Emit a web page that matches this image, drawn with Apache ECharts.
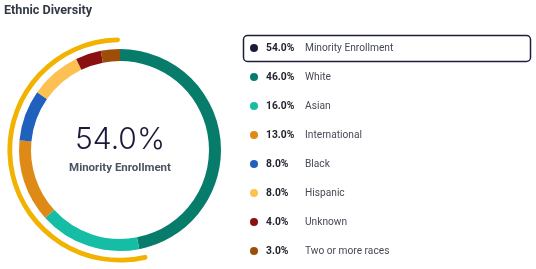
<!DOCTYPE html>
<html>
<head>
<meta charset="utf-8">
<script src="https://cdn.jsdelivr.net/npm/echarts@6/dist/echarts.min.js"></script>
<style>
html,body{margin:0;padding:0;background:#fff;}
#c{width:536px;height:269px;}
</style>
</head>
<body>
<div id="c"></div>
<script>
const chartTitle = 'Ethnic Diversity';
const summaryName = 'Minority Enrollment';
const summaryValue = 54.0;
const categories = ['White', 'Asian', 'International', 'Black', 'Hispanic', 'Unknown', 'Two or more races'];
const values = [46.0, 16.0, 13.0, 8.0, 8.0, 4.0, 3.0];
const colors = ['#077c6b', '#14bda3', '#df8a17', '#2161be', '#fdc052', '#8b1010', '#9c4d07'];
const summaryColor = '#f1b300';
const summaryDot = '#1c1a3c';

const chart = echarts.init(document.getElementById('c'), null, {renderer: 'canvas'});
const valueOf = {};
categories.forEach((c, i) => valueOf[c] = values[i]);
valueOf[summaryName] = summaryValue;

const option = {
  animation: false,
  title: {
    text: chartTitle, left: 4, top: 4, padding: 0,
    textStyle: {fontFamily: 'Roboto', fontSize: 12.6, fontWeight: 'bold', color: '#333a45'}
  },
  legend: {
    orient: 'vertical', left: 250, top: 43, padding: 0,
    itemWidth: 8, itemHeight: 8, itemGap: 19, icon: 'circle',
    selectedMode: false,
    data: [{name: summaryName, itemStyle: {color: summaryDot}}].concat(categories.map(c => ({name: c}))),
    formatter: name => `{p|${valueOf[name].toFixed(1)}%}{n|${name}}`,
    textStyle: {
      fontFamily: 'Roboto',
      rich: {
        p: {fontFamily: 'Roboto', fontWeight: 'bold', fontSize: 10.3, width: 39, padding: [0, 0, 0, 3], color: '#23232e', lineHeight: 11},
        n: {fontFamily: 'Roboto', fontSize: 10.2, color: '#464a55', lineHeight: 11}
      }
    }
  },
  graphic: [
    {type: 'rect', shape: {x: 243.5, y: 35.5, width: 287, height: 26, r: 4}, style: {fill: 'none', stroke: '#1e1e3c', lineWidth: 1.5}, z: -1},
    {type: 'text', x: 120, y: 140, style: {text: summaryValue.toFixed(1) + '%', textAlign: 'center', textVerticalAlign: 'middle', fontFamily: 'Inter', fontWeight: 300, fontSize: 30, fill: '#1c1a3c'}},
    {type: 'text', x: 120, y: 168, style: {text: summaryName, textAlign: 'center', textVerticalAlign: 'middle', fontFamily: 'Roboto', fontWeight: 'bold', fontSize: 11.5, fill: '#4b5262'}}
  ],
  series: [
    {
      type: 'pie', center: [120, 150], radius: [89, 101], startAngle: 90, clockwise: true,
      silent: true, label: {show: false}, labelLine: {show: false}, emphasis: {disabled: true},
      data: categories.map((c, i) => ({name: c, value: values[i], itemStyle: {color: colors[i], borderWidth: 0}}))
    },
    {
      type: 'pie', center: [120, 150], radius: [107.8, 112.6], startAngle: 90, clockwise: true,
      silent: true, label: {show: false}, labelLine: {show: false}, emphasis: {disabled: true},
      data: [
        {name: '_rest', value: 100 - summaryValue, itemStyle: {color: 'rgba(0,0,0,0)'}},
        {name: summaryName, value: summaryValue, itemStyle: {color: summaryColor, borderRadius: 2.4}}
      ]
    }
  ]
};
chart.setOption(option);
</script>
</body>
</html>
